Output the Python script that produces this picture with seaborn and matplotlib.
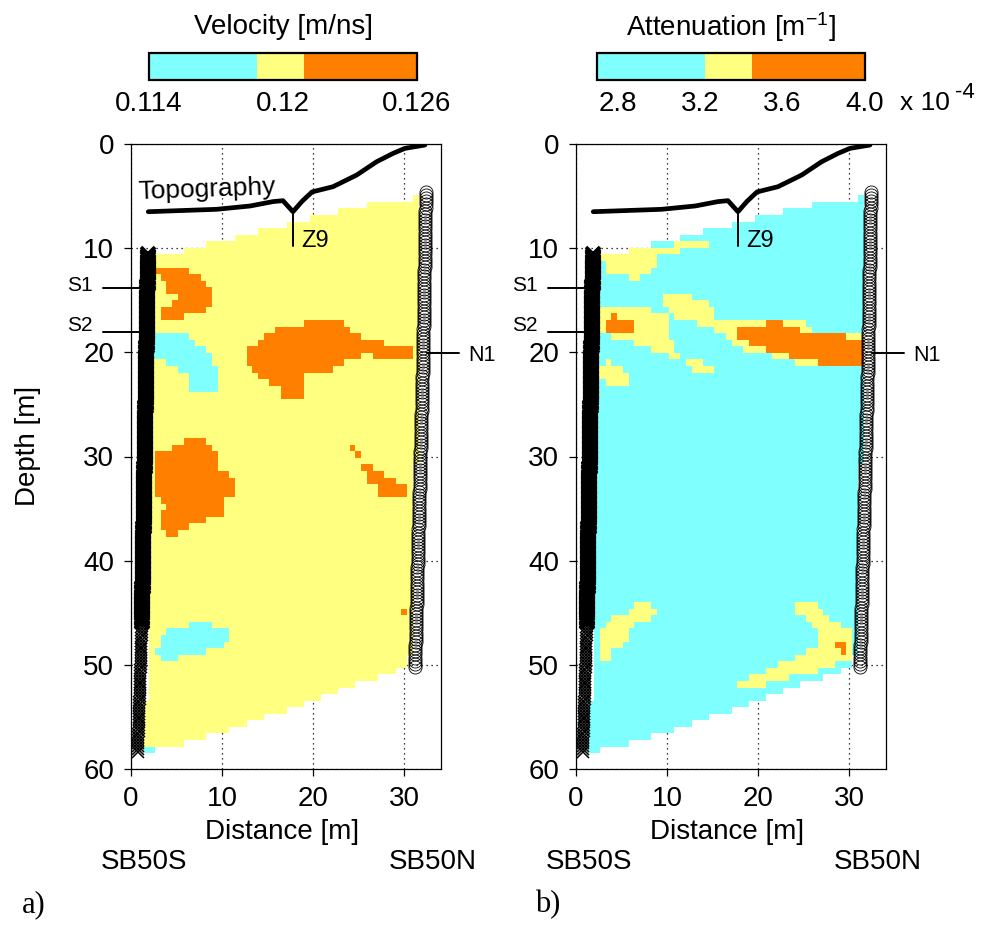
import numpy as np
import pandas as pd
import matplotlib
matplotlib.use("Agg")
import matplotlib.pyplot as plt
from matplotlib.colors import ListedColormap, BoundaryNorm
from matplotlib.cm import ScalarMappable
from matplotlib.ticker import FixedLocator
import seaborn as sns

# ---------------------------------------------------------------- grid
CELL = 0.63            # tomogram cell size [m]
X0, Y0 = 0.10, 0.52    # position of the first column / row edge [m]
N_COLS, N_ROWS = 50, 93

# ray-covered part of the grid: first / last active row of each column
top_row = [16, 16, 16, 16, 16, 16, 16, 16, 16, 15, 15, 15, 15, 14, 14, 14, 14, 14,
           13, 13, 13, 13, 12, 12, 12, 12, 12, 11, 11, 11, 11, 10, 10, 10, 10, 10,
           9, 9, 9, 9, 9, 8, 8, 8, 8, 8, 8, 8, 8, 7]
bottom_row = [91, 91, 91, 91, 90, 90, 90, 90, 90, 89, 89, 89, 89, 88, 88, 88, 88,
              87, 87, 87, 86, 86, 86, 85, 85, 85, 85, 84, 84, 84, 83, 83, 83,
              82, 82, 82, 81, 81, 81, 80, 80, 80, 80, 79, 79, 79, 78, 78, 76, 47]
# first / last active column, changing at the given rows
left_break_rows, left_cols = [0, 84], [3, 2]
right_break_rows, right_cols = [0, 48, 77], [49, 48, 47]

# ---------------------------------------------------------------- velocity
vel_bounds = [0.114, 0.11885, 0.12093, 0.126]
vel_class_values = [0.1165, 0.1199, 0.1235]   # low / mid / high
vel_background = 1
vel_low = [  # (row, first col, last col)
    (28, 3, 9), (29, 3, 10), (30, 3, 12), (31, 3, 13), (32, 6, 13), (33, 8, 14),
    (34, 10, 14), (35, 10, 14), (36, 10, 14),
    (72, 10, 13), (73, 6, 16), (74, 5, 16), (75, 5, 15), (76, 4, 12), (77, 5, 7),
    (91, 2, 3),
]
vel_high = [
    (18, 4, 9), (19, 5, 11), (20, 6, 12), (21, 6, 13), (22, 8, 13), (23, 7, 13),
    (24, 5, 12), (25, 5, 8),
    (26, 30, 36), (27, 25, 37), (28, 23, 39), (29, 22, 43), (30, 20, 48),
    (31, 20, 39), (31, 42, 48), (32, 20, 36), (33, 21, 34), (34, 22, 29),
    (35, 24, 29), (36, 26, 29), (37, 26, 29),
    (44, 9, 12), (45, 7, 13), (46, 4, 14), (47, 4, 14), (48, 4, 14), (49, 4, 16),
    (50, 4, 17), (51, 4, 17), (52, 4, 17), (53, 5, 15), (54, 6, 15), (55, 5, 15),
    (56, 5, 12), (57, 5, 9), (58, 6, 7),
    (45, 38, 38), (46, 39, 39), (48, 40, 41), (49, 41, 43), (50, 41, 45),
    (51, 43, 47), (52, 43, 47),
    (70, 47, 47),
]

# ---------------------------------------------------------------- attenuation (x 1e-4 1/m)
att_bounds = [2.7, 3.224, 3.452, 4.0]
att_class_values = [3.0, 3.34, 3.7]
att_background = 0
att_mid = [
    (14, 17, 22), (15, 9, 17), (16, 3, 13), (17, 5, 13), (18, 5, 12), (19, 9, 10),
    (22, 15, 19), (23, 15, 22), (24, 3, 12), (24, 16, 23), (25, 3, 15), (25, 17, 23),
    (26, 3, 15), (26, 21, 39), (27, 3, 15), (27, 24, 27), (27, 39, 40),
    (28, 6, 15), (28, 26, 27), (28, 47, 49), (29, 10, 16), (29, 27, 29),
    (30, 13, 16), (30, 29, 32), (31, 16, 17), (31, 34, 36), (32, 5, 5),
    (32, 19, 21), (32, 38, 41), (33, 3, 7), (33, 20, 23), (34, 3, 8), (35, 5, 8),
    (69, 10, 12), (70, 9, 13), (71, 6, 12), (72, 5, 9), (73, 4, 8), (74, 4, 8),
    (75, 4, 7), (76, 4, 5), (77, 4, 5),
    (69, 38, 41), (70, 38, 42), (71, 40, 43), (72, 41, 45), (73, 42, 47),
    (74, 42, 47), (75, 42, 47), (76, 40, 47), (77, 38, 47), (78, 35, 44),
    (79, 33, 41), (80, 30, 36), (81, 28, 32),
]
att_high = [
    (25, 6, 6), (26, 5, 9), (27, 5, 9),
    (26, 33, 35), (27, 28, 38), (28, 28, 46), (29, 30, 49), (30, 33, 49),
    (31, 37, 49), (32, 42, 49),
    (75, 45, 46), (76, 46, 46),
]

# ---------------------------------------------------------------- geometry
topo_x = [1.9, 9.4, 13.1, 15.6, 16.7, 17.8, 18.8, 19.9, 22.2, 24.8, 27.0, 28.8, 30.1, 32.3]
topo_depth = [6.5, 6.27, 5.95, 5.53, 5.44, 6.5, 5.5, 4.6, 4.1, 2.98, 1.7, 0.9, 0.42, 0.1]
z9_x, z9_depths = 17.8, [6.5, 9.8]
bhS_depth, bhS_x = [10.6, 46.0, 58.5], [1.87, 1.2, 0.75]
bhN_depth, bhN_x = [4.6, 20.0, 50.2], [32.4, 32.1, 31.2]
s_marks = [("S1", 13.85, 13.6), ("S2", 18.0, 17.4)]
n_mark = ("N1", 20.1, 20.3)

COLORS = ["#80FFFF", "#FFFF80", "#FF8000"]


def build_field(background, spans_by_class, class_values):
    code = np.full((N_ROWS, N_COLS), background)
    for cls, spans in spans_by_class.items():
        for r, c0, c1 in spans:
            code[r, c0:c1 + 1] = cls
    rows = np.arange(N_ROWS)
    first = np.array(left_cols)[np.searchsorted(left_break_rows, rows, side="right") - 1]
    last = np.array(right_cols)[np.searchsorted(right_break_rows, rows, side="right") - 1]
    r = rows[:, None]
    c = np.arange(N_COLS)[None, :]
    inside = ((r >= np.array(top_row)[c]) & (r <= np.array(bottom_row)[c])
              & (c >= first[:, None]) & (c <= last[:, None]))
    vals = np.array(class_values)[code]
    return np.ma.masked_where(~inside, vals)


sns.set_style("white")
plt.rcParams["font.family"] = ["Liberation Sans", "DejaVu Sans"]
plt.rcParams["mathtext.default"] = "regular"
plt.rcParams["text.color"] = "k"
plt.rcParams["axes.labelcolor"] = "k"

W, H = 990, 925
fig = plt.figure(figsize=(W / 100, H / 100), dpi=100)

cmap = ListedColormap(COLORS)
x_edges = X0 + CELL * np.arange(N_COLS + 1)
y_edges = Y0 + CELL * np.arange(N_ROWS + 1)

panels = [
    dict(left=131, field=build_field(vel_background, {0: vel_low, 2: vel_high}, vel_class_values),
         bounds=vel_bounds, cb_left=149, title="Velocity [m/ns]", title_x=284,
         ticks=[0.114, 0.12, 0.126], labels=["0.114", "0.12", "0.126"], minor=[0.117, 0.123],
         tag="a)", tag_x=22),
    dict(left=576, field=build_field(att_background, {1: att_mid, 2: att_high}, att_class_values),
         bounds=att_bounds, cb_left=597, title="Attenuation [m$^{-1}$]", title_x=731,
         ticks=[2.8, 3.2, 3.6, 4.0], labels=["2.8", "3.2", "3.6", "4.0"], minor=[3.0, 3.4, 3.8],
         tag="b)", tag_x=535),
]

for k, p in enumerate(panels):
    ax = fig.add_axes([p["left"] / W, 1 - 769 / H, 310 / W, 625 / H])
    norm = BoundaryNorm(p["bounds"], cmap.N)
    ax.set_axisbelow(True)
    ax.grid(True, color="k", lw=0.9, linestyle=(0, (1, 3)))
    ax.pcolormesh(x_edges, y_edges, p["field"], cmap=cmap, norm=norm,
                  shading="flat", antialiased=False, zorder=1)
    ax.set_xlim(0, 34.07)
    ax.set_ylim(60, 0)
    ax.set_xticks([0, 10, 20, 30])
    ax.set_yticks([0, 10, 20, 30, 40, 50, 60])
    ax.tick_params(direction="out", length=5, width=0.9, labelsize=20, pad=7,
                   colors="k", bottom=True, left=True)
    for s in ax.spines.values():
        s.set_visible(True)
        s.set_color("k")
        s.set_linewidth(0.9)

    # topography profile
    topo = pd.DataFrame({"x": topo_x, "depth": topo_depth})
    sns.lineplot(data=topo, x="x", y="depth", sort=False, estimator=None,
                 color="k", lw=3.4, ax=ax, zorder=5)
    ax.plot([z9_x, z9_x], z9_depths, color="k", lw=1.4, zorder=5)
    ax.text(18.7, 9.3, "Z9", fontsize=17, va="center", ha="left", zorder=6)
    ax.set_xlabel("")
    ax.set_ylabel("")

    # boreholes
    dS = np.arange(bhS_depth[0], bhS_depth[1], 0.12)
    ax.plot(np.interp(dS, bhS_depth, bhS_x), dS, ls="none", marker="x", ms=9.5,
            mew=2.6, color="k", zorder=6, clip_on=False)
    dS2 = np.arange(bhS_depth[1], bhS_depth[2] + 0.01, 0.28)
    ax.plot(np.interp(dS2, bhS_depth, bhS_x), dS2, ls="none", marker="x", ms=9,
            mew=1.1, color="k", zorder=6, clip_on=False)
    dN = np.arange(bhN_depth[0], bhN_depth[2] + 0.01, 0.3)
    ax.plot(np.interp(dN, bhN_depth, bhN_x), dN, ls="none", marker="o", ms=9.4,
            mfc="none", mec="k", mew=0.6, zorder=6, clip_on=False)

    # sensor markers
    for name, yl, yt in s_marks:
        ax.plot([-3.08, 1.3], [yl, yl], color="k", lw=1.4, clip_on=False, zorder=7)
        ax.text(-4.2, yt, name, fontsize=15, ha="right", va="center", clip_on=False)
    ax.plot([32.5, 36.0], [n_mark[1], n_mark[1]], color="k", lw=1.4, clip_on=False, zorder=7)
    ax.text(37.1, n_mark[2], n_mark[0], fontsize=15.5, ha="left", va="center", clip_on=False)

    if k == 0:
        ax.text(0.75, 4.4, "Topography", fontsize=19, ha="left", va="center",
                rotation=2, zorder=6)
        ax.text(-0.332, 0.517, "Depth [m]", transform=ax.transAxes, rotation=90,
                fontsize=20, ha="center", va="center")

    ax.text(0.487, -0.1008, "Distance [m]", transform=ax.transAxes, fontsize=20,
            ha="center", va="center")
    ax.text(0.042, -0.149, "SB50S", transform=ax.transAxes, fontsize=20,
            ha="center", va="center")
    ax.text(0.974, -0.149, "SB50N", transform=ax.transAxes, fontsize=20,
            ha="center", va="center")
    fig.text(p["tag_x"] / W, 1 - 905 / H, p["tag"], fontsize=22,
             family="Liberation Serif", ha="left", va="center")

    # colour bar
    cax = fig.add_axes([p["cb_left"] / W, 1 - 80 / H, 268 / W, 27 / H])
    cb = fig.colorbar(ScalarMappable(norm=norm, cmap=cmap), cax=cax,
                      orientation="horizontal", spacing="proportional",
                      ticks=p["ticks"])
    cb.set_ticklabels(p["labels"])
    cax.xaxis.set_minor_locator(FixedLocator(p["minor"]))
    cax.tick_params(which="both", direction="in", length=4, width=0.8,
                    top=True, bottom=True, labelsize=20, pad=8, colors="k")
    cb.outline.set_linewidth(1.6)
    cb.outline.set_edgecolor("k")
    fig.text(p["title_x"] / W, 1 - 27 / H, p["title"], fontsize=20,
             ha="center", va="center")

fig.text(900 / W, 1 - 103 / H, "x 10", fontsize=19, ha="left", va="center")
fig.text(955 / W, 1 - 92 / H, "-4", fontsize=16, ha="left", va="center")

fig.savefig("out.png", dpi=100)
